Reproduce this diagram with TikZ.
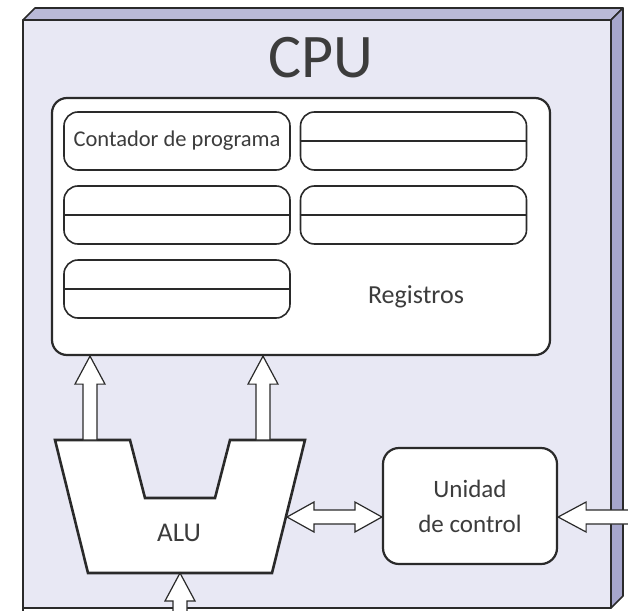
\documentclass[tikz,border=0pt]{standalone}
\usepackage{fontspec}
\setmainfont{Carlito}
\usetikzlibrary{calc}

\definecolor{face}{HTML}{E8E8F4}
\definecolor{topface}{HTML}{B9B9D7}
\definecolor{sideface}{HTML}{A6A6CC}
\definecolor{ink}{HTML}{2A2A2A}
\definecolor{txt}{HTML}{3C3C3C}

% hollow block arrow from #2 to #3 (tip at #3)
\newcommand\hollowarrow[2]{%
  \draw[blockarrow] let \p1=(#1), \p2=(#2),
      \n1={atan2(\y2-\y1,\x2-\x1)}, \n2={veclen(\x2-\x1,\y2-\y1)} in
    [shift={(\p1)}, rotate=\n1]
    (0,-7) -- (\n2-28,-7) -- (\n2-28,-15) -- (\n2,0) -- (\n2-28,15)
    -- (\n2-28,7) -- (0,7) -- cycle;}
% hollow block arrow with a head at both ends
\newcommand\hollowdoublearrow[2]{%
  \draw[blockarrow] let \p1=(#1), \p2=(#2),
      \n1={atan2(\y2-\y1,\x2-\x1)}, \n2={veclen(\x2-\x1,\y2-\y1)} in
    [shift={(\p1)}, rotate=\n1]
    (0,0) -- (27,-15) -- (27,-7) -- (\n2-27,-7) -- (\n2-27,-15) -- (\n2,0)
    -- (\n2-27,15) -- (\n2-27,7) -- (27,7) -- (27,15) -- cycle;}

\begin{document}
\begin{tikzpicture}[x=1pt,y=-1pt,
  casing/.style={draw=ink, line width=1.6pt, line join=round},
  regbox/.style={draw=ink, line width=2.2pt, fill=white, rounded corners=15pt,
    minimum width=498pt, minimum height=257pt, inner sep=0pt},
  cell/.style={draw=ink, line width=1.6pt, fill=white, rounded corners=14pt,
    minimum width=226pt, minimum height=58pt, inner sep=0pt},
  unitbox/.style={draw=ink, line width=2.2pt, fill=white, rounded corners=16pt,
    minimum width=174pt, minimum height=116pt, inner sep=0pt, align=center,
    text=txt, font=\fontsize{25}{35}\selectfont},
  alushape/.style={draw=ink, line width=2.6pt, fill=white, line join=miter},
  blockarrow/.style={draw=ink, line width=1.2pt, fill=white, line join=miter},
  label/.style={text=txt, inner sep=0pt}]

\useasboundingbox (0,0) rectangle (628,610);
\clip (0,0) rectangle (628,610);

% 3D casing of the processor
\fill[face] (23,20) rectangle (611,608);
\draw[casing, fill=topface] (23,20) -- (35,8) -- (623,8) -- (611,20) -- cycle;
\draw[casing, fill=sideface] (611,20) -- (623,8) -- (623,596) -- (611,608) -- cycle;
\draw[casing] (23,620) -- (23,20) -- (611,20) -- (611,608) -- (23,608);

\node[label, font=\fontsize{62}{62}\selectfont] (cpu) at (321,58) {CPU};

% register file
\node[regbox] (regs) at (301,226.5) {};
\node[cell] (pc) at (177,141) {};
\node[label, font=\fontsize{22.5}{26}\selectfont] (pclabel) at (pc) {Contador de programa};
\node[cell] (r2) at (413.5,141) {};
\node[cell] (r3) at (177,215) {};
\node[cell] (r4) at (413.5,215) {};
\node[cell] (r5) at (177,289) {};
\foreach \r in {r2,r3,r4,r5}
  \draw[ink, line width=1.6pt] (\r.west) -- (\r.east);
\node[label, font=\fontsize{26}{30}\selectfont] (reglabel) at (416,297) {Registros};

% arithmetic logic unit
\draw[alushape] (55,440) -- (130,440) -- (145,498) -- (215,498) -- (230,440)
  -- (305,440) -- (272,573) -- (88,573) -- cycle;
\node[label, font=\fontsize{27}{30}\selectfont] (alu) at (179,533) {ALU};
\coordinate (aluL) at (90,440);
\coordinate (aluR) at (263,440);
\coordinate (aluside) at (287,517);
\coordinate (aluin) at (180,573);
\coordinate (below) at (180,640);

% control unit
\node[unitbox] (cu) at (470,506) {Unidad\\de control};
\coordinate (outside) at (640,517);

% data paths
\hollowarrow{aluL}{regs.south -| aluL}
\hollowarrow{aluR}{regs.south -| aluR}
\hollowarrow{below}{aluin}
\hollowarrow{outside}{cu.east |- outside}
\hollowdoublearrow{aluside}{cu.west |- aluside}
\end{tikzpicture}
\end{document}
